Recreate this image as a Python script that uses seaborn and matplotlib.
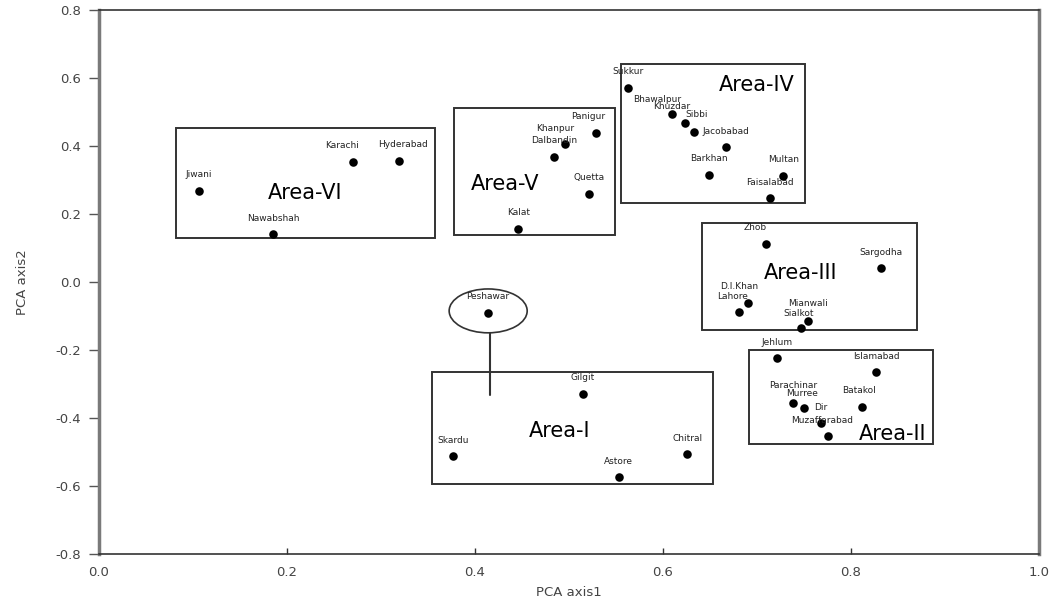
import matplotlib
matplotlib.use("Agg")
import matplotlib.pyplot as plt
from matplotlib.patches import Rectangle, Ellipse
import pandas as pd
import seaborn as sns
import numpy as np

# city scores on the first two PCA axes
cities = ['Jiwani', 'Karachi', 'Hyderabad', 'Nawabshah',
          'Panigur', 'Khanpur', 'Dalbandin', 'Quetta', 'Kalat',
          'Sukkur', 'Bhawalpur', 'Khuzdar', 'Sibbi', 'Jacobabad', 'Barkhan', 'Multan', 'Faisalabad',
          'Zhob', 'Sargodha', 'D.I.Khan', 'Lahore', 'Mianwali', 'Sialkot',
          'Jehlum', 'Islamabad', 'Parachinar', 'Murree', 'Batakol', 'Dir', 'Muzaffarabad',
          'Peshawar', 'Gilgit', 'Skardu', 'Chitral', 'Astore']
pca1 = [0.106, 0.270, 0.319, 0.185,
        0.529, 0.496, 0.484, 0.521, 0.446,
        0.563, 0.610, 0.623, 0.633, 0.667, 0.649, 0.728, 0.714,
        0.710, 0.832, 0.690, 0.681, 0.754, 0.747,
        0.721, 0.827, 0.738, 0.750, 0.812, 0.768, 0.776,
        0.414, 0.515, 0.377, 0.626, 0.553]
pca2 = [0.268, 0.353, 0.356, 0.141,
        0.438, 0.406, 0.368, 0.259, 0.156,
        0.571, 0.494, 0.468, 0.441, 0.397, 0.315, 0.312, 0.247,
        0.112, 0.041, -0.062, -0.088, -0.115, -0.135,
        -0.224, -0.265, -0.356, -0.371, -0.368, -0.415, -0.453,
        -0.091, -0.329, -0.512, -0.506, -0.574]

# grouping boxes: name, x0, x1, y0, y1, label x, label y
areas = ['Area-VI', 'Area-V', 'Area-IV', 'Area-III', 'Area-II', 'Area-I']
area_x0 = [0.082, 0.378, 0.555, 0.641, 0.691, 0.354]
area_x1 = [0.357, 0.549, 0.751, 0.870, 0.887, 0.653]
area_y0 = [0.129, 0.138, 0.232, -0.141, -0.476, -0.594]
area_y1 = [0.453, 0.512, 0.641, 0.174, -0.200, -0.265]
area_lx = [0.219, 0.432, 0.700, 0.746, 0.844, 0.490]
area_ly = [0.262, 0.288, 0.579, 0.026, -0.447, -0.438]

df = pd.DataFrame({'city': cities, 'PCA axis1': pca1, 'PCA axis2': pca2})

# label offsets in pixels where the name is not just above the dot
offsets = {'Karachi': (-11, 16), 'Hyderabad': (4, 16), 'Panigur': (-8, 17),
           'Khanpur': (-10, 15), 'Bhawalpur': (-15, 15), 'Khuzdar': (-13, 16),
           'Sibbi': (3, 18), 'Zhob': (-11, 16), 'D.I.Khan': (-8, 17),
           'Lahore': (-7, 15), 'Mianwali': (0, 18), 'Sialkot': (-3, 14),
           'Parachinar': (0, 18), 'Murree': (-2, 15),
           'Batakol': (-3, 17), 'Muzaffarabad': (-6, 16)}

sns.set_theme(style="white")
plt.rcParams['font.family'] = ['DejaVu Sans']

fig = plt.figure(figsize=(10.51, 6.05), dpi=100)
ax = fig.add_axes([0.0942, 0.0843, 0.8944, 0.8992])

sns.scatterplot(data=df, x='PCA axis1', y='PCA axis2', color='black', s=38,
                edgecolor='black', linewidth=0, ax=ax, zorder=3)

for name, x, y in zip(cities, pca1, pca2):
    dx, dy = offsets.get(name, (0, 16))
    ax.annotate(name, (x, y), xytext=(dx, dy), textcoords='offset pixels',
                ha='center', va='center', fontsize=6.5, color='#222222')

for name, x0, x1, y0, y1, lx, ly in zip(areas, area_x0, area_x1, area_y0, area_y1, area_lx, area_ly):
    ax.add_patch(Rectangle((x0, y0), x1 - x0, y1 - y0, fill=False,
                           edgecolor='#333333', linewidth=1.4, zorder=2))
    ax.text(lx, ly, name, fontsize=15, ha='center', va='center', color='black')

# Peshawar is circled and tied to Area-I
ax.add_patch(Ellipse((0.414, -0.085), 0.083, 0.129, fill=False,
                     edgecolor='#333333', linewidth=1.2))
ax.plot([0.416, 0.416], [-0.150, -0.332], color='#333333', linewidth=1.5)

ax.set_xlim(0, 1.0)
ax.set_ylim(-0.8, 0.8)
xt = np.arange(0, 1.01, 0.2)
yt = np.arange(-0.8, 0.81, 0.2)
ax.set_xticks(xt)
ax.set_xticklabels([f'{v:.1f}' for v in xt])
ax.set_yticks(yt)
ax.set_yticklabels([f'{v:.1f}'.replace('-0.0', '0.0') for v in yt])
ax.tick_params(axis='x', direction='in', length=4, width=1, color='#333333',
               pad=9, labelsize=9.5, labelcolor='#444444', bottom=True)
ax.tick_params(axis='y', direction='out', length=7, width=1, color='#555555',
               pad=6, labelsize=9.5, labelcolor='#444444', left=True)
ax.set_xlabel('PCA axis1', fontsize=9.5, color='#444444', labelpad=5)
ax.set_ylabel('PCA axis2', fontsize=9.5, color='#444444', labelpad=19)

for side in ['left', 'right']:
    ax.spines[side].set_color('#7a7a7a')
    ax.spines[side].set_linewidth(2.5)
for side in ['top', 'bottom']:
    ax.spines[side].set_color('#333333')
    ax.spines[side].set_linewidth(1.2)

fig.savefig('out.png', dpi=100)
